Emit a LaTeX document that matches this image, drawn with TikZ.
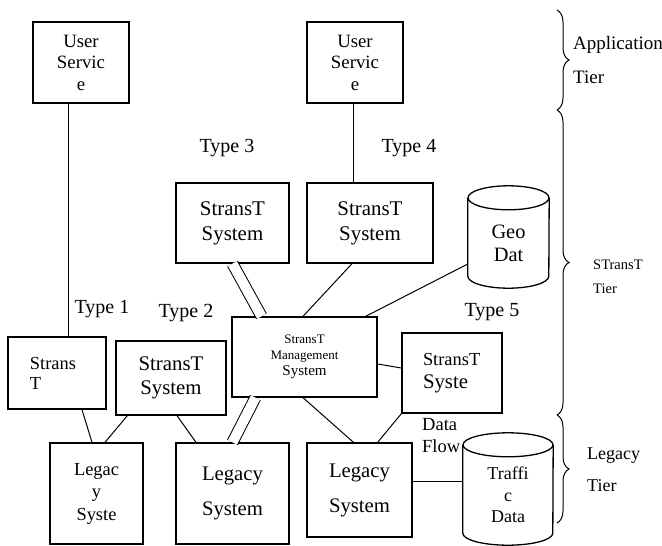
\documentclass[tikz,border=0pt]{standalone}
\usepackage{fontspec}
\setmainfont{Liberation Serif}
\usetikzlibrary{decorations.pathreplacing}
\newcommand\fs[2]{\fontsize{#1}{#2}\selectfont}
\newcommand\drawdb[2]{%
  \draw[line width=1.3pt] (#1.north) ellipse[x radius=#2pt, y radius=12pt];
  \draw[line width=1.3pt] (#1.north west) -- ([yshift=12pt]#1.south west)
    arc[start angle=180, end angle=360, x radius=#2pt, y radius=12pt] -- (#1.north east);}

\begin{document}
\begin{tikzpicture}[x=1pt,y=-1pt,
  box/.style={draw,line width=1.3pt,inner sep=0pt,align=center},
  db/.style={inner sep=0pt,align=center},
  link/.style={line width=1pt},
  dlink/.style={double,double distance=10pt,line width=1pt},
  tier/.style={decorate,decoration={brace,amplitude=12pt},line width=1pt}]
  \useasboundingbox (0,0) rectangle (662,546);
  \node[box,minimum width=96,minimum height=81,font=\fs{18.8}{21.5}] (us1) at (81,62.5) {User\\Servic\\e};
  \node[box,minimum width=96,minimum height=81,font=\fs{18.8}{21.5}] (us2) at (355,62.5) {User\\Servic\\e};
  \node[box,minimum width=113,minimum height=80,font=\fs{20.9}{25}] (st3) at (232.5,223) {StransT\\System};
  \node[box,minimum width=126,minimum height=80,font=\fs{20.9}{25}] (st4) at (370,223) {StransT\\System};
  \node[box,minimum width=145,minimum height=80,font=\fs{13}{16}] (mgmt) at (304.5,357) {StransT\\Management\\{\fs{15}{16}System}};
  \node[box,minimum width=98,minimum height=72,text width=54,align=left,font=\fs{18.4}{20}] (st1) at (57,373) {Strans\\T};
  \node[box,minimum width=110,minimum height=74,font=\fs{20.8}{24}] (st2) at (171,378) {StransT\\System};
  \node[box,minimum width=100,minimum height=80,text width=58,align=left,font=\fs{18.4}{23}] (st5) at (452,373) {StransT\\{\fs{20.8}{23}Syste}};
  \node[box,minimum width=93,minimum height=101,font=\fs{18.4}{22.5}] (leg1) at (96.5,493.5) {Legac\\y\\Syste};
  \node[box,minimum width=113,minimum height=101,font=\fs{20.7}{35}] (leg2) at (232.5,493.5) {Legacy\\System};
  \node[box,minimum width=105,minimum height=94,font=\fs{20.7}{35}] (leg3) at (359.5,490) {Legacy\\System};
  \node[db,minimum width=81,minimum height=90,font=\fs{20.4}{23}] (geo) at (508.5,243) {Geo\\Dat};
  \node[db,minimum width=90,minimum height=100,font=\fs{18}{21.5}] (traffic) at (508,495) {Traffi\\c\\Data};
  \drawdb{geo}{40.5}
  \drawdb{traffic}{45}

  \node[font=\fs{20}{24}] (type1) at (102,309) {Type 1};
  \node[font=\fs{20}{24}] (type2) at (186,313) {Type 2};
  \node[font=\fs{20}{24}] (type3) at (227,148) {Type 3};
  \node[font=\fs{20}{24}] (type4) at (409,148) {Type 4};
  \node[font=\fs{20}{24}] (type5) at (492,312) {Type 5};
  \node[anchor=west,align=left,inner sep=0pt,font=\fs{18.5}{22}] (flow) at (422,436) {Data\\Flow};

  \draw[link] ([xshift=-13pt]us1.south) -- ([xshift=-13pt]us1.south |- st1.north);
  \draw[link] ([xshift=-2pt]us2.south) -- ([xshift=-2pt]us2.south |- st4.north);
  \draw[dlink] (st3.south) -- ([xshift=-43pt]mgmt.north);
  \draw[link] ([xshift=-18pt]st4.south) -- ([xshift=-1.5pt]mgmt.north);
  \draw[link] ([yshift=-21pt]geo.west) -- ([xshift=-12pt]mgmt.north east);
  \draw[dlink] ([xshift=24pt]mgmt.south west) -- (leg2.north);
  \draw[link] ([xshift=-1.5pt]mgmt.south) -- ([xshift=-6pt]leg3.north);
  \draw[link] ([yshift=-7pt]mgmt.east) -- ([yshift=5pt]st5.west);
  \draw[link] (st5.south west) -- ([xshift=-35pt]leg3.north east);
  \draw[link] ([xshift=25pt]st1.south) -- ([xshift=-4.5pt]leg1.north);
  \draw[link] ([xshift=12pt]st2.south west) -- ([xshift=8.5pt]leg1.north);
  \draw[link] ([xshift=6pt]st2.south) -- ([xshift=-36.5pt]leg2.north);
  \draw[link] ([yshift=9pt]leg3.east) -- ([yshift=9pt]leg3.east -| traffic.west);

  \coordinate (apptop) at (557,10);
  \coordinate (appbot) at (557,110);
  \coordinate (stbot) at (557,415);
  \coordinate (legbot) at (557,523);
  \draw[tier] (apptop) -- (appbot);
  \draw[tier] (appbot) -- (stbot);
  \draw[tier] (stbot) -- (legbot);
  \node[anchor=west,align=left,inner sep=0pt,font=\fs{19}{34}] (apptier) at (573,60) {Application\\Tier};
  \node[anchor=west,align=left,inner sep=0pt,font=\fs{14.5}{24}] (sttier) at (593,277) {STransT\\Tier};
  \node[anchor=west,align=left,inner sep=0pt,font=\fs{18}{32}] (legtier) at (587,470) {Legacy\\Tier};
\end{tikzpicture}
\end{document}
